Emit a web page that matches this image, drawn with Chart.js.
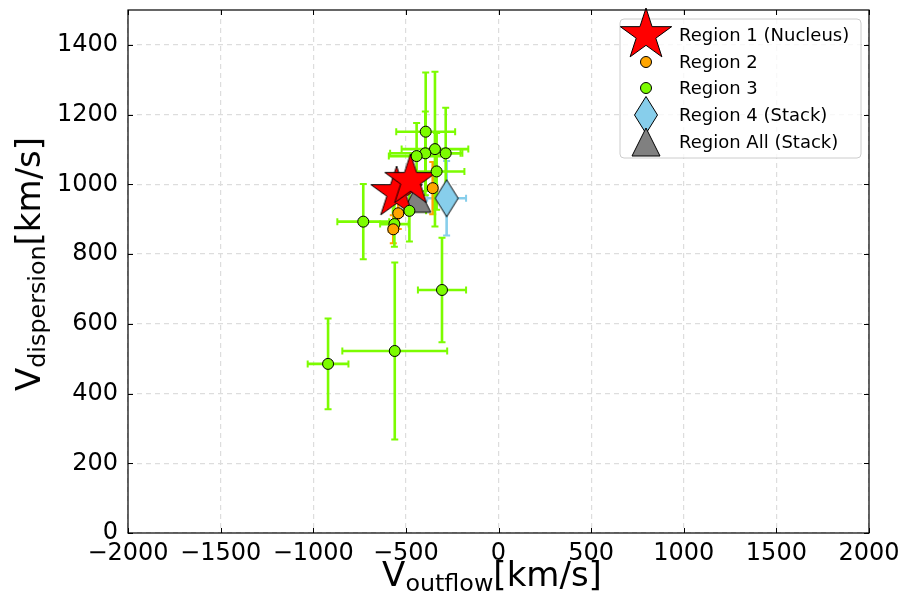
<!DOCTYPE html>
<html>
<head>
<meta charset="utf-8">
<script src="https://cdn.jsdelivr.net/npm/chart.js@4.4.1/dist/chart.umd.min.js"></script>
<style>
  body { margin: 0; background: #fff; }
  #wrap { position: relative; width: 906px; height: 605px; font-family: 'DejaVu Sans', sans-serif; }
  .axlabel { position: absolute; font-size: 34px; line-height: 1; white-space: nowrap; color: #000; }
  .axlabel sub { font-size: 70%; vertical-align: -0.22em; line-height: 0; }
  #xlabel { left: 492px; top: 557px; transform: translateX(-50%); }
  #ylabel { left: 28px; top: 264px; transform: translate(-50%, -50%) rotate(-90deg); }
</style>
</head>
<body>
<div id="wrap">
  <canvas id="chart" width="906" height="605"></canvas>
  <div class="axlabel" id="xlabel">V<sub>outflow</sub>[km/s]</div>
  <div class="axlabel" id="ylabel">V<sub>dispersion</sub>[km/s]</div>
</div>
<script>
// ---- data ----
const xTicks = [-2000, -1500, -1000, -500, 0, 500, 1000, 1500, 2000];
const yTicks = [0, 200, 400, 600, 800, 1000, 1200, 1400];

// Region 1 (Nucleus)
const r1X = [-550, -475];
const r1Y = [975, 1010];

// Region 2
const r2X = [-355, -541, -568];
const r2Y = [989, 917, 871];
const r2Xerr = [25, 25, 25];
const r2Yerr = [75, 45, 40];

// Region 3
const r3X = [-920, -560, -305, -730, -393, -343, -395, -285, -442, -334, -481, -562];
const r3Y = [485, 522, 697, 893, 1151, 1101, 1089, 1089, 1081, 1037, 924, 886];
const r3Xerr = [110, 283, 130, 140, 159, 180, 190, 90, 150, 150, 90, 77];
const r3Yerr = [130, 254, 150, 108, 170, 222, 120, 131, 95, 110, 88, 65];

// Region 4 (Stack)
const r4X = [-280];
const r4Y = [960];
const r4Xerr = [105];
const r4Yerr = [107];

// Region All (Stack)
const rAllX = [-441];
const rAllY = [960];

function points(xs, ys, xe, ye) {
    return xs.map((x, i) => ({ x: x, y: ys[i], xerr: xe ? xe[i] : 0, yerr: ye ? ye[i] : 0 }));
}

// ---- marker images (matplotlib-like shapes) ----
function makeMarker(w, h, draw) {
    const c = document.createElement('canvas');
    c.width = w; c.height = h;
    const g = c.getContext('2d');
    g.translate(w / 2, h / 2);
    g.beginPath();
    draw(g);
    g.closePath();
    return c;
}
function finish(g, fill) {
    g.fillStyle = fill; g.fill();
    g.lineWidth = 1; g.strokeStyle = '#000'; g.stroke();
}
const starImg = makeMarker(60, 60, g => {
    const R = 27;
    for (let i = 0; i < 10; i++) {
        const r = i % 2 ? R * 0.382 : R;
        const a = -Math.PI / 2 + i * Math.PI / 5;
        g.lineTo(r * Math.cos(a), r * Math.sin(a));
    }
    g.closePath(); finish(g, 'red');
});
const diamondImg = makeMarker(26, 40, g => {
    g.moveTo(0, -18.5); g.lineTo(11.5, 0); g.lineTo(0, 18.5); g.lineTo(-11.5, 0);
    g.closePath(); finish(g, 'skyblue');
});
const triImg = makeMarker(32, 32, g => {
    g.moveTo(0, -14); g.lineTo(14, 14); g.lineTo(-14, 14);
    g.closePath(); finish(g, 'gray');
});

// ---- plugins ----
const errorBars = {
    id: 'errorBars',
    beforeDatasetsDraw(chart) {
        const ctx = chart.ctx, xs = chart.scales.x, ys = chart.scales.y;
        chart.data.datasets.forEach(ds => {
            if (!ds.errColor) return;
            ctx.save();
            ctx.strokeStyle = ds.errColor;
            ds.data.forEach(p => {
                const px = xs.getPixelForValue(p.x), py = ys.getPixelForValue(p.y);
                const x0 = xs.getPixelForValue(p.x - p.xerr), x1 = xs.getPixelForValue(p.x + p.xerr);
                const y0 = ys.getPixelForValue(p.y - p.yerr), y1 = ys.getPixelForValue(p.y + p.yerr);
                ctx.lineWidth = 2.6;
                ctx.beginPath();
                ctx.moveTo(x0, py); ctx.lineTo(x1, py);
                ctx.moveTo(px, y0); ctx.lineTo(px, y1);
                ctx.stroke();
                ctx.lineWidth = 2;
                ctx.beginPath();
                ctx.moveTo(x0, py - 3.5); ctx.lineTo(x0, py + 3.5);
                ctx.moveTo(x1, py - 3.5); ctx.lineTo(x1, py + 3.5);
                ctx.moveTo(px - 3.5, y0); ctx.lineTo(px + 3.5, y0);
                ctx.moveTo(px - 3.5, y1); ctx.lineTo(px + 3.5, y1);
                ctx.stroke();
            });
            ctx.restore();
        });
    }
};

const frameAndLegend = {
    id: 'frameAndLegend',
    afterDraw(chart) {
        const ctx = chart.ctx, a = chart.chartArea, xs = chart.scales.x, ys = chart.scales.y;
        ctx.save();
        // inward ticks on all four sides
        ctx.strokeStyle = '#000';
        ctx.lineWidth = 1;
        ctx.beginPath();
        xTicks.forEach(v => {
            const px = Math.round(xs.getPixelForValue(v)) + 0.5;
            ctx.moveTo(px, a.bottom); ctx.lineTo(px, a.bottom - 5);
            ctx.moveTo(px, a.top); ctx.lineTo(px, a.top + 5);
        });
        yTicks.forEach(v => {
            const py = Math.round(ys.getPixelForValue(v)) + 0.5;
            ctx.moveTo(a.left, py); ctx.lineTo(a.left + 5, py);
            ctx.moveTo(a.right, py); ctx.lineTo(a.right - 5, py);
        });
        ctx.stroke();
        ctx.lineWidth = 1.2;
        ctx.strokeRect(a.left, a.top, a.right - a.left, a.bottom - a.top);

        // legend box
        const bx = 620, by = 19, bw = 241, bh = 139, r = 4;
        ctx.beginPath();
        ctx.moveTo(bx + r, by);
        ctx.arcTo(bx + bw, by, bx + bw, by + bh, r);
        ctx.arcTo(bx + bw, by + bh, bx, by + bh, r);
        ctx.arcTo(bx, by + bh, bx, by, r);
        ctx.arcTo(bx, by, bx + bw, by, r);
        ctx.closePath();
        ctx.fillStyle = 'rgba(255,255,255,0.8)';
        ctx.fill();
        ctx.strokeStyle = '#cccccc';
        ctx.lineWidth = 1;
        ctx.stroke();

        const rows = [35, 62, 88, 115, 142];
        const mx = 646;
        chart.data.datasets.slice().sort((p, q) => p.legendIndex - q.legendIndex).forEach((ds, i) => {
            const y = rows[i];
            if (ds.pointStyle === 'circle') {
                ctx.beginPath();
                ctx.arc(mx, y, 5.5, 0, Math.PI * 2);
                ctx.fillStyle = ds.backgroundColor; ctx.fill();
                ctx.strokeStyle = '#000'; ctx.lineWidth = 1; ctx.stroke();
            } else {
                const img = ds.pointStyle;
                ctx.drawImage(img, mx - img.width / 2, y - img.height / 2);
            }
            ctx.fillStyle = '#000';
            ctx.font = '18px "DejaVu Sans"';
            ctx.textBaseline = 'middle';
            ctx.fillText(ds.label, 679, y + 1);
        });
        ctx.restore();
    }
};

Chart.defaults.font.family = "'DejaVu Sans', sans-serif";
Chart.defaults.color = '#000';

new Chart(document.getElementById('chart'), {
    type: 'scatter',
    data: {
        datasets: [
            {
                label: 'Region 4 (Stack)', legendIndex: 3, order: 1,
                data: points(r4X, r4Y, r4Xerr, r4Yerr),
                pointStyle: diamondImg, pointRadius: 18, errColor: 'skyblue'
            },
            {
                label: 'Region 2', legendIndex: 1, order: 2,
                data: points(r2X, r2Y, r2Xerr, r2Yerr),
                pointStyle: 'circle', pointRadius: 5.5, pointBorderWidth: 1,
                backgroundColor: 'orange', borderColor: '#000', errColor: 'orange'
            },
            {
                label: 'Region 3', legendIndex: 2, order: 3,
                data: points(r3X, r3Y, r3Xerr, r3Yerr),
                pointStyle: 'circle', pointRadius: 5.5, pointBorderWidth: 1,
                backgroundColor: 'lawngreen', borderColor: '#000', errColor: 'lawngreen'
            },
            {
                label: 'Region 1 (Nucleus)', legendIndex: 0, order: 4,
                data: points(r1X, r1Y),
                pointStyle: starImg, pointRadius: 27
            },
            {
                label: 'Region All (Stack)', legendIndex: 4, order: 5,
                data: points(rAllX, rAllY),
                pointStyle: triImg, pointRadius: 14
            }
        ]
    },
    options: {
        responsive: false,
        animation: false,
        events: [],
        layout: { autoPadding: false, padding: { top: 10, right: 37, left: 0, bottom: 0 } },
        plugins: { legend: { display: false }, tooltip: { enabled: false } },
        scales: {
            x: {
                type: 'linear', min: -2000, max: 2000,
                afterBuildTicks: s => { s.ticks = xTicks.map(v => ({ value: v })); },
                afterFit: s => { s.height = 72; s.paddingLeft = 0; s.paddingRight = 0; },
                ticks: {
                    font: { size: 24 }, padding: 6, maxRotation: 0,
                    callback: v => v < 0 ? '\u2212' + Math.abs(v) : String(v)
                },
                grid: { color: '#dddddd', lineWidth: 1.2, drawTicks: false },
                border: { display: false, dash: [5, 4] }
            },
            y: {
                type: 'linear', min: 0, max: 1500,
                afterBuildTicks: s => { s.ticks = yTicks.map(v => ({ value: v })); },
                afterFit: s => { s.width = 128; s.paddingTop = 0; s.paddingBottom = 0; },
                ticks: { font: { size: 24 }, padding: 10, callback: v => String(v) },
                grid: { color: '#dddddd', lineWidth: 1.2, drawTicks: false },
                border: { display: false, dash: [5, 4] }
            }
        }
    },
    plugins: [errorBars, frameAndLegend]
});
</script>
</body>
</html>
